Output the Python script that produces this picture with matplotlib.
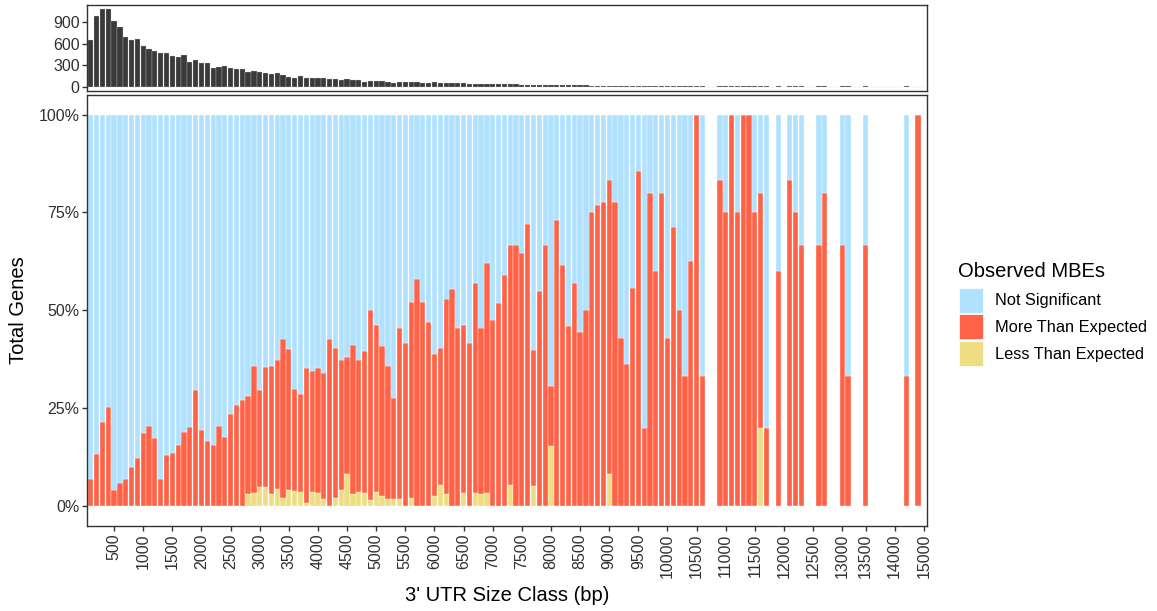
import numpy as np
import matplotlib
matplotlib.use("Agg")
import matplotlib.pyplot as plt
from matplotlib.patches import Patch

plt.rcParams['font.family'] = ['Liberation Sans', 'DejaVu Sans']

# 3' UTR size classes (bp) that occur in the data set
size_class = (list(range(100, 13100, 100))
              + [13100, 13200, 13400, 13500]
              + [13600, 13700, 13800, 13900, 14000]
              + [14200, 14400, 14700, 14900, 15000])

# number of genes per size class
gene_count = [
    655, 988, 1080, 1080, 914, 835, 692, 646, 660, 568,
    531, 494, 471, 471, 425, 415, 443, 337, 365, 328,
    332, 254, 268, 286, 258, 245, 249, 208, 222, 198,
    189, 175, 194, 162, 138, 115, 152, 125, 120, 125,
    115, 111, 102, 97, 102, 92, 92, 69, 74, 83,
    78, 60, 55, 66, 62, 60, 63, 56, 55, 58,
    52, 50, 48, 46, 44, 42, 40, 41, 37, 36,
    35, 33, 30, 30, 28, 27, 26, 25, 24, 22,
    21, 23, 20, 18, 17, 16, 15, 14, 14, 13,
    12, 12, 11, 9, 8, 7, 7, 6, 5, 7,
    7, 6, 6, 8, 4, 3, 0, 0, 6, 4,
    3, 4, 2, 2, 4, 5, 5, 0, 5, 0,
    6, 4, 3, 0, 0, 3, 5, 0, 0, 3,
    3, 0, 0, 3, 0, 0, 0, 0, 0, 0,
    3, 0, 1, 0,
]

N = None
# share of genes (%) with fewer MBEs than expected
less_pct = [
    0, 0, 0, 0, 0, 0, 0, 0, 0, 0,
    0, 0, 0, 0, 0, 0, 0, 0, 0, 0,
    0, 0, 0, 0, 0, 0, 0, 3.0, 3.4, 5.0,
    5.0, 3.2, 4.5, 2.1, 4.2, 3.8, 3.6, 0.8, 3.6, 3.4,
    1.7, 0, 2.1, 4.0, 8.1, 3.2, 3.7, 3.4, 1.5, 3.7,
    2.7, 1.7, 1.7, 1.7, 0, 2.1, 0, 0, 0, 2.7,
    5.4, 3.0, 0, 0, 3.4, 0, 3.4, 3.0, 3.4, 0,
    0, 0, 5.5, 0, 0, 0, 5.1, 0, 0, 15.4,
    0, 0, 0, 0, 0, 0, 0, 0, 0, 8.3,
    0, 0, 0, 0, 0, 0, 0, 0, 0, 0,
    0, 0, 0, 0, 0, 0, N, N, 0, 0,
    0, 0, 0, 0, 0, 20.0, 0, N, 0, N,
    0, 0, 0, N, N, 0, 0, N, N, 0,
    0, N, N, 0, N, N, N, N, N, N,
    0, N, 0, N,
]

# share of genes (%) with more MBEs than expected
more_pct = [
    7.0, 13.2, 21.5, 25.3, 4.0, 6.0, 7.0, 10.1, 12.3, 18.6,
    20.4, 17.3, 7.0, 13.0, 13.5, 15.5, 19.0, 20.2, 29.7, 19.4,
    16.6, 15.5, 20.4, 17.7, 23.5, 25.9, 27.2, 25.0, 32.5, 24.7,
    30.5, 32.7, 32.7, 40.5, 36.0, 26.1, 25.1, 34.4, 31.0, 31.8,
    32.3, 42.6, 38.3, 33.2, 30.1, 38.0, 33.7, 36.1, 48.5, 42.5,
    38.3, 34.0, 26.0, 43.7, 41.7, 50.0, 58.0, 52.1, 47.0, 36.1,
    35.0, 50.0, 55.5, 45.6, 42.9, 41.6, 53.7, 42.4, 58.6, 47.6,
    52.0, 59.0, 61.1, 66.6, 64.6, 72.0, 34.9, 54.9, 66.6, 15.4,
    73.2, 61.5, 46.0, 57.1, 44.4, 50.0, 75.0, 76.9, 77.8, 75.0,
    77.8, 42.9, 36.4, 55.6, 85.7, 20.0, 80.0, 60.0, 80.0, 42.9,
    71.4, 50.0, 33.3, 62.5, 100.0, 33.3, N, N, 83.3, 75.0,
    100.0, 75.0, 100.0, 100.0, 75.0, 60.0, 20.0, N, 60.0, N,
    83.3, 75.0, 66.7, N, N, 66.7, 80.0, N, N, 66.7,
    33.3, N, N, 66.7, N, N, N, N, N, N,
    33.3, N, 100.0, N,
]

colors = {'Not Significant': '#B0E2FF',
          'More Than Expected': '#FF6347',
          'Less Than Expected': '#EEDD82'}

x = np.arange(len(size_class))
has_bar = np.array([v is not None for v in more_pct])
less = np.array([v if v is not None else np.nan for v in less_pct]) / 100
more = np.array([v if v is not None else np.nan for v in more_pct]) / 100
notsig = 1 - less - more

fig = plt.figure(figsize=(11.57, 6.11), dpi=100)
W, H = 1157, 611
left, right = 87.3 / W, 927.3 / W
ax_top = fig.add_axes([left, 1 - 90.5 / H, right - left, (90.5 - 5) / H])
ax = fig.add_axes([left, 1 - 525.7 / H, right - left, (525.7 - 95) / H])

edge = '#333333'
tick_col = '#333333'

# counts per class
ax_top.bar(x, gene_count, width=0.9, color='#3a3a3a', edgecolor='#d0d0d0', linewidth=0.2)
ax_top.set_xlim(-0.6, len(x) - 0.4)
ax_top.set_ylim(-54, 1139)
ax_top.set_yticks([0, 300, 600, 900])
ax_top.set_xticks([])

# stacked proportions per class
xb = x[has_bar]
ax.bar(xb, less[has_bar], width=0.9, color=colors['Less Than Expected'],
       edgecolor='white', linewidth=0.25)
ax.bar(xb, more[has_bar], bottom=less[has_bar], width=0.9,
       color=colors['More Than Expected'], edgecolor='white', linewidth=0.25)
ax.bar(xb, notsig[has_bar], bottom=(less + more)[has_bar], width=0.9,
       color=colors['Not Significant'], edgecolor='white', linewidth=0.25)
ax.set_xlim(-0.6, len(x) - 0.4)
ax.set_ylim(-0.05, 1.05)
ax.set_yticks([0, 0.25, 0.5, 0.75, 1.0])
ax.set_yticklabels(['0%', '25%', '50%', '75%', '100%'])

tick_pos = [i for i, s in enumerate(size_class) if s % 500 == 0]
tick_lab = [str(size_class[i]) for i in tick_pos]
ax.set_xticks(tick_pos)
ax.set_xticklabels(tick_lab, rotation=90)

for a in (ax_top, ax):
    for s in a.spines.values():
        s.set_color(edge)
        s.set_linewidth(1.0)
    a.tick_params(axis='both', length=3.5, width=1.0, color=tick_col,
                  labelsize=11.5, labelcolor='#303030', pad=2)

ax.set_ylabel('Total Genes', fontsize=14.5, labelpad=8)
ax.set_xlabel("3' UTR Size Class (bp)", fontsize=14.5, labelpad=6)

# legend: title set as its own text so the gap to the keys can be tuned
fig.text(958 / W, 1 - 277 / H, 'Observed MBEs', fontsize=14.5, va='baseline', ha='left')
handles = [Patch(facecolor=c, edgecolor='white', linewidth=0.5) for c in colors.values()]
fig.legend(handles, list(colors.keys()), loc='upper left',
           bbox_to_anchor=(959 / W, 1 - 287.5 / H), frameon=False,
           fontsize=11.8, handlelength=1.44, handleheight=2.0, labelspacing=0.08,
           handletextpad=0.73, borderpad=0, borderaxespad=0)

fig.savefig('out.png', dpi=100)
